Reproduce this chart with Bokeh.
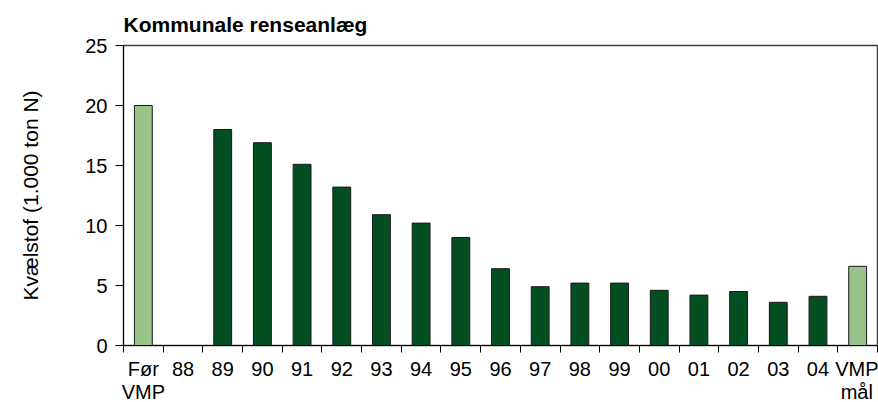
import math
from bokeh.plotting import figure
from bokeh.models import FixedTicker, Range1d, ColumnDataSource
from bokeh.embed import file_html
from bokeh.resources import INLINE

# --- data ---
categories = ["Før\nVMP", "88", "89", "90", "91", "92", "93", "94", "95", "96",
              "97", "98", "99", "00", "01", "02", "03", "04", "VMP\nmål"]
values = [20.0, None, 18.0, 16.9, 15.1, 13.2, 10.9, 10.2, 9.0, 6.4,
          4.9, 5.2, 5.2, 4.6, 4.2, 4.5, 3.6, 4.1, 6.6]
bar_group = ["ref", "year", "year", "year", "year", "year", "year", "year", "year", "year",
             "year", "year", "year", "year", "year", "year", "year", "year", "ref"]
y_ticks = [0, 5, 10, 15, 20, 25]

colors = {"ref": "#98c38b", "year": "#034f22"}
FONT = "Liberation Sans"

xs, tops, fills = [], [], []
for i, (v, g) in enumerate(zip(values, bar_group)):
    if v is None:
        continue
    xs.append(i)
    tops.append(v)
    fills.append(colors[g])
src = ColumnDataSource(dict(x=xs, top=tops, fill=fills))

n = len(categories)
p = figure(frame_width=754, frame_height=300,
           x_range=Range1d(-0.5, n - 0.5), y_range=Range1d(0, 25),
           output_backend="svg", toolbar_location=None,
           min_border_left=123, min_border_top=0, min_border_right=1, min_border_bottom=0,
           title="Kommunale renseanlæg")

p.vbar(x="x", top="top", width=0.45, source=src, fill_color="fill",
       line_color="#1a1a1a", line_width=1)

p.title.text_font = FONT
p.title.text_font_size = "21px"
p.title.text_font_style = "bold"
p.title.text_color = "black"
p.title.align = "left"
p.title.offset = 0
p.title.standoff = 20

p.xgrid.visible = False
p.ygrid.visible = False
p.outline_line_color = "#404040"
p.outline_line_width = 1.5
p.background_fill_color = "white"
p.border_fill_color = "white"

xa = p.xaxis[0]
xa.ticker = FixedTicker(ticks=list(range(n)), minor_ticks=[i - 0.5 for i in range(n + 1)])
xa.major_label_overrides = {i: c for i, c in enumerate(categories)}
xa.major_tick_out = 0
xa.major_tick_in = 0
xa.minor_tick_out = 7
xa.minor_tick_in = 0
xa.minor_tick_line_color = "black"
xa.axis_line_color = "black"
xa.major_label_text_font = FONT
xa.major_label_text_font_size = "20px"
xa.major_label_text_line_height = 1.05
xa.major_label_text_color = "black"
xa.major_label_standoff = 5

ya = p.yaxis[0]
ya.ticker = FixedTicker(ticks=y_ticks)
ya.major_tick_out = 8
ya.major_tick_in = 0
ya.minor_tick_out = 0
ya.minor_tick_in = 0
ya.axis_line_color = "black"
ya.major_tick_line_color = "black"
ya.major_label_text_font = FONT
ya.major_label_text_font_size = "20px"
ya.major_label_text_color = "black"
ya.major_label_standoff = 8
ya.axis_label = "Kvælstof (1.000 ton N)"
ya.axis_label_text_font = FONT
ya.axis_label_text_font_size = "21px"
ya.axis_label_text_font_style = "normal"
ya.axis_label_text_color = "black"
ya.axis_label_standoff = 40

with open("out.html", "w") as f:
    f.write(file_html(p, INLINE))
